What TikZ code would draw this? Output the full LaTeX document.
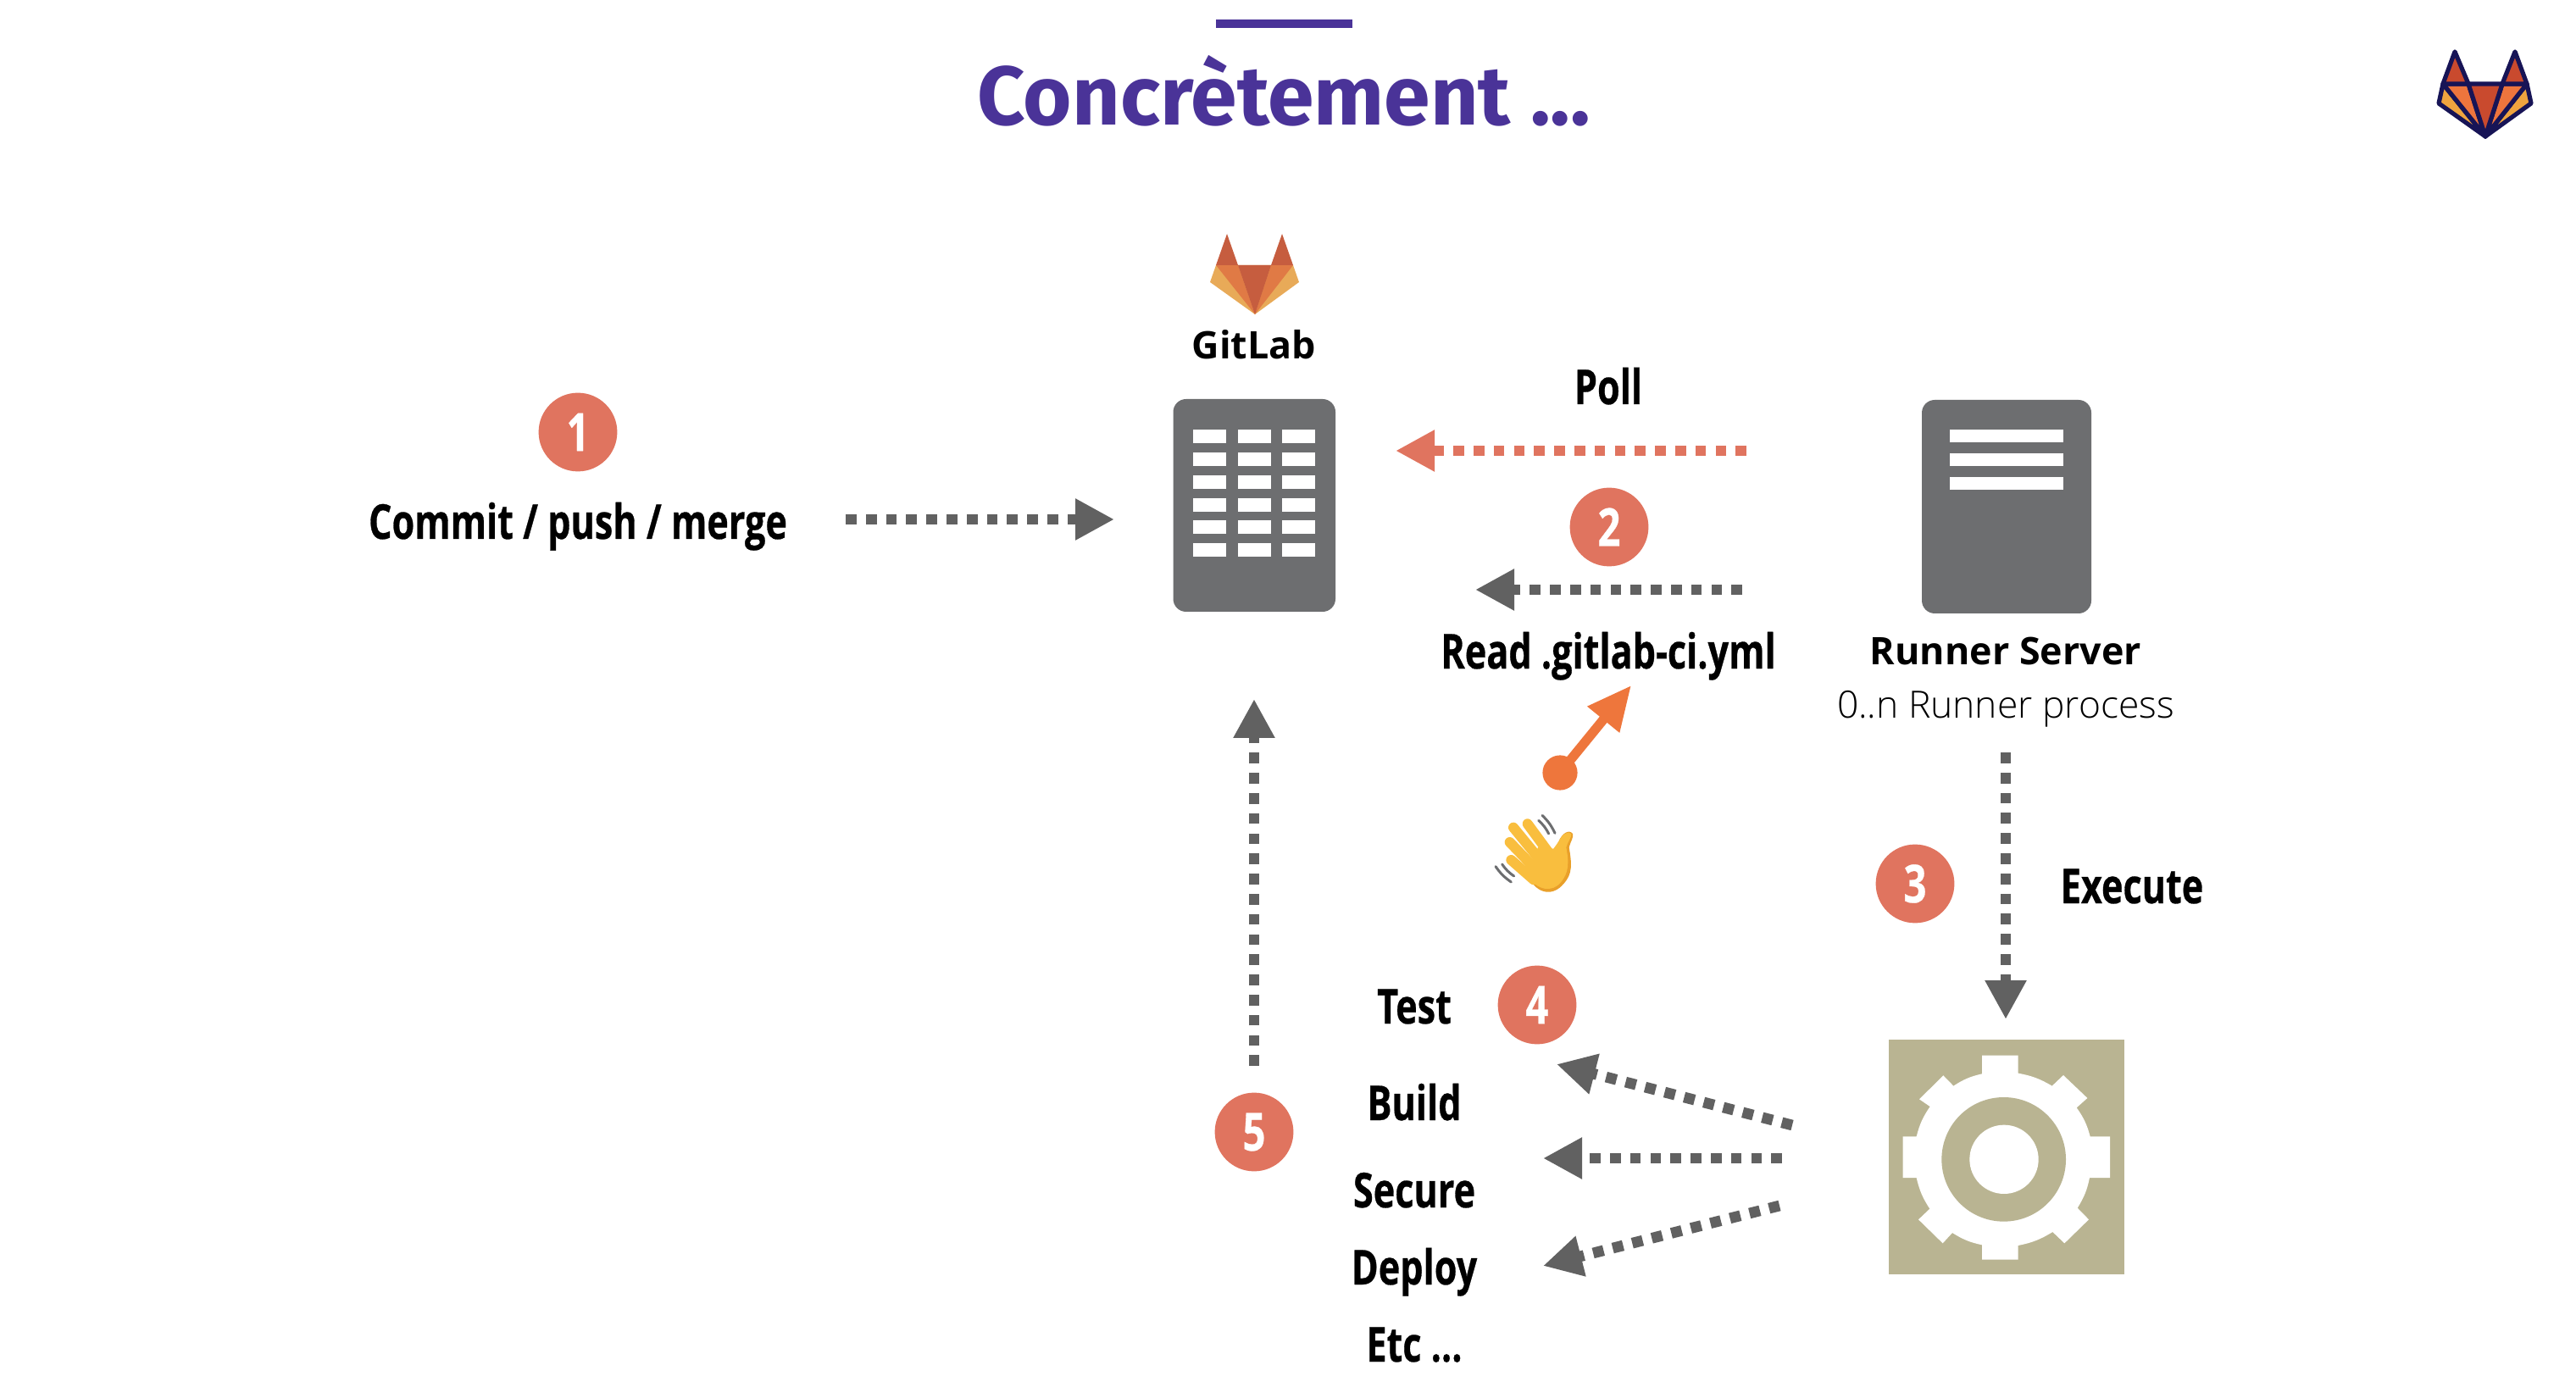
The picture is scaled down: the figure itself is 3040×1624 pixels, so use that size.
\documentclass[tikz,border=0pt]{standalone}
\usepackage{fontspec}
\usetikzlibrary{arrows.meta}
\setmainfont{Open Sans}
\newfontfamily\condfont[FakeStretch=0.76,FakeBold=0.5]{Open Sans}
\newfontfamily\titlefont{Fira Sans}
\newfontfamily\lightfont{Open Sans Light}
\definecolor{titlecol}{HTML}{4A3398}
\definecolor{srvgrey}{HTML}{6D6E70}
\definecolor{arrgrey}{HTML}{616161}
\definecolor{salmon}{HTML}{E0745F}
\definecolor{orangearr}{HTML}{EE763C}
\definecolor{olive}{HTML}{B9B492}
\definecolor{navy}{HTML}{171456}
\definecolor{fa}{HTML}{C94A2E}
\definecolor{fb}{HTML}{EE753D}
\definecolor{fc}{HTML}{EFA43F}
\definecolor{ga}{HTML}{C65D3F}
\definecolor{gb}{HTML}{E07A45}
\definecolor{gc}{HTML}{E8AA58}
\definecolor{hand}{HTML}{F9BE3E}
\definecolor{handd}{HTML}{E9A02A}
\tikzset{
  x=0.25pt,y=-0.25pt,
  lbl/.style={anchor=base,inner sep=0pt,font=\condfont\bfseries\fontsize{14.2}{14.2}\selectfont},
  boldlbl/.style={anchor=base,inner sep=0pt,font=\bfseries\fontsize{11.2}{11.2}\selectfont},
  badge/.style={circle,fill=salmon,minimum size=23.2pt,inner sep=0pt,text=white,font=\condfont\bfseries\fontsize{15.5}{15.5}\selectfont},
  dotarrow/.style={line width=3.175pt,dash pattern=on 3.175pt off 2.775pt,arrgrey,-{Triangle[length=11.5pt,width=11.5pt]}},
  srv/.style={fill=srvgrey,rounded corners=3.8pt},
  cell/.style={fill=white},
}
\begin{document}
\begin{tikzpicture}
\useasboundingbox (0,0) rectangle (3040,1624);
% title
\fill[titlecol] (1435,23) rectangle (1596,33);
\node[anchor=base,inner sep=0pt,text=titlecol,font=\titlefont\bfseries\fontsize{24.6}{24.6}\selectfont] (title) at (1515,148) {Concrètement ...};
% top-right logo
\begin{scope}[line width=1.3pt,draw=navy,line join=round]
\filldraw[fill=fc] (2883,99)--(2878,122)--(2933,161)--cycle;
\filldraw[fill=fc] (2982,99)--(2987,122)--(2933,161)--cycle;
\filldraw[fill=fb] (2883,99)--(2913,99)--(2933,161)--cycle;
\filldraw[fill=fb] (2982,99)--(2953,99)--(2933,161)--cycle;
\filldraw[fill=fa] (2913,99)--(2953,99)--(2933,161)--cycle;
\filldraw[fill=fa] (2883,99)--(2897,61)--(2913,99)--cycle;
\filldraw[fill=fa] (2953,99)--(2968,61)--(2982,99)--cycle;
\end{scope}
% gitlab logo
\fill[gc,line join=round] (1435,313)--(1428,333)--(1481,371)--(1533,333)--(1526,313)--cycle;
\fill[gb] (1435,313)--(1461,313)--(1481,371)--cycle;
\fill[gb] (1526,313)--(1500,313)--(1481,371)--cycle;
\fill[ga] (1461,313)--(1500,313)--(1481,371)--cycle;
\fill[ga] (1435,313)--(1448,276)--(1461,313)--cycle;
\fill[ga] (1500,313)--(1513,276)--(1526,313)--cycle;
\node[boldlbl] (gitlab) at (1480,424) {GitLab};
% servers
\fill[srv] (1384.5,471) rectangle (1576,722);
\foreach \r in {507,534,561,588,614.5,641}
  \foreach \c in {1408,1461,1513}
    \fill[cell] (\c,\r) rectangle ++(39,16);
\fill[srv] (2268,472) rectangle (2468,724);
\foreach \r in {507,535,563}
  \fill[cell] (2301,\r) rectangle ++(134,15);
% gear
\fill[olive] (2229,1227) rectangle (2507,1504);
\begin{scope}[shift={(2200,1180)},scale=1/3]
\fill[white] (417,197)--(545,197)--(545,260) to[bend left=10] (665,305)--(705,267)--(790,348)--(752,382) to[bend left=10] (800,484)--(870,484)--(870,630)--(798,630) to[bend left=10] (755,737)--(795,778)--(709,862)--(667,822) to[bend left=10] (545,870)--(545,920)--(417,920)--(417,868) to[bend left=10] (312,825)--(278,862)--(192,778)--(232,740) to[bend left=10] (185,630)--(137,630)--(137,484)--(185,484) to[bend left=10] (233,378)--(195,352)--(280,268)--(316,305) to[bend left=10] (417,262)--cycle;
\fill[olive] (494,565) circle[radius=220];
\fill[white] (495,565) circle[radius=122];
\end{scope}
% labels
\node[lbl] (commit) at (682,636) {Commit / push / merge};
\node[lbl] (poll) at (1898,477) {Poll};
\node[lbl] (read) at (1898,789) {Read .gitlab-ci.yml};
\node[boldlbl] (runner) at (2367,785) {Runner Server};
\node[anchor=base,inner sep=0pt,font=\lightfont\fontsize{11.1}{11.1}\selectfont] (proc) at (2367,847) {0..n Runner process};
\node[lbl] (execute) at (2516,1066) {Execute};
\node[lbl] (test) at (1669,1208) {Test};
\node[lbl] (build) at (1669,1322) {Build};
\node[lbl] (secure) at (1669,1425) {Secure};
\node[lbl] (deploy) at (1669,1516) {Deploy};
\node[lbl] (etc) at (1669,1607) {Etc ...};
% badges
\node[badge] (b1) at (682,510) {1};
\node[badge] (b2) at (1899,622) {2};
\node[badge] (b3) at (2260,1043) {3};
\node[badge] (b4) at (1814,1186) {4};
\node[badge] (b5) at (1480,1336) {5};
% connector ends
\coordinate (a1s) at (998,613);  \coordinate (a1e) at (1315,613);
\coordinate (a2s) at (2061,532); \coordinate (a2e) at (1647,532);
\coordinate (a3s) at (2056,696); \coordinate (a3e) at (1741,696);
\coordinate (a4s) at (2367,888); \coordinate (a4e) at (2367,1203);
\coordinate (a5s) at (1480,1258);\coordinate (a5e) at (1480,825);
\coordinate (a6s) at (2115,1328);\coordinate (a6e) at (1837,1256);
\coordinate (a7s) at (2103,1367);\coordinate (a7e) at (1821,1367);
\coordinate (a8s) at (2100,1423);\coordinate (a8e) at (1821,1494);
\draw[dotarrow] (a1s)--(a1e);
\draw[dotarrow,salmon] (a2s)--(a2e);
\draw[dotarrow] (a3s)--(a3e);
\draw[dotarrow] (a4s)--(a4e);
\draw[dotarrow] (a5s)--(a5e);
\draw[dotarrow] (a6s)--(a6e);
\draw[dotarrow] (a7s)--(a7e);
\draw[dotarrow] (a8s)--(a8e);
% orange pointer
\coordinate (ptip) at (1925,809);
\node[circle,fill=orangearr,minimum size=10.3pt,inner sep=0pt] (pdot) at (1841,912) {};
\draw[orangearr,line width=2.8pt,-{Triangle[length=13pt,width=11.5pt]}] (pdot.center)--(ptip);
% waving hand
\begin{scope}[shift={(1720,780)},scale=1/3]
\draw[srvgrey,line width=0.75pt,line cap=round] (135,728) to[bend right=10] (190,783);
\draw[srvgrey,line width=0.75pt,line cap=round] (158,720) to[bend right=10] (200,762);
\draw[srvgrey,line width=0.75pt,line cap=round] (300,547) to[bend left=10] (345,610);
\draw[srvgrey,line width=0.75pt,line cap=round] (287,565) to[bend left=10] (323,612);
\fill[handd] (250,765) .. controls (285,830) and (340,832) .. (375,790) .. controls (408,755) and (405,720) .. (395,660) .. controls (400,640) and (412,625) .. (408,612) .. controls (395,595) and (370,610) .. (358,640) -- (345,665) -- cycle;
\fill[hand] (245,760) .. controls (285,815) and (335,820) .. (365,785) .. controls (395,750) and (395,715) .. (385,660) .. controls (390,640) and (405,625) .. (403,612) .. controls (390,600) and (370,615) .. (358,640) -- (340,665) -- (285,660) -- cycle;
\foreach \xa/\ya/\xb/\yb in {248/577/320/675,198/590/280/690,185/642/265/725,190/705/270/775}
  \draw[hand,line width=3pt,line cap=round] (\xa,\ya)--(\xb,\yb);
\end{scope}
\end{tikzpicture}
\end{document}
